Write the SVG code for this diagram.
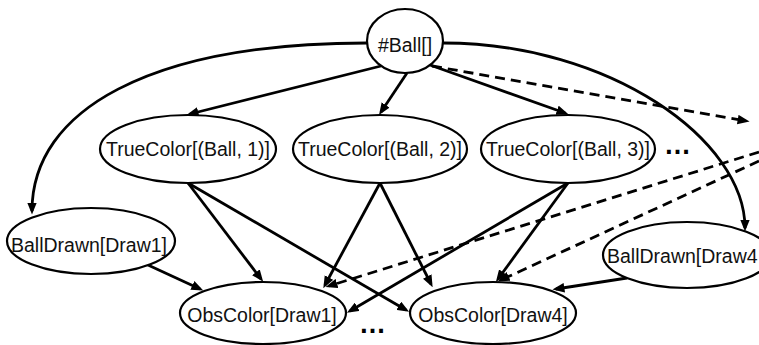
<svg xmlns="http://www.w3.org/2000/svg" width="759" height="345" viewBox="0 0 759 345">
  <style>
    .node ellipse { fill: #fff; stroke: #000; stroke-width: 2.2; }
    .node text { font-family: "Liberation Sans", Arial, sans-serif; font-size: 19.5px; fill: #111; text-anchor: middle; }
    .edge { fill: none; stroke: #000; stroke-width: 2.8; marker-end: url(#arrow); }
    .dash { stroke-dasharray: 10 6; }
    .dots { font-family: "Liberation Sans", Arial, sans-serif; font-size: 27px; font-weight: bold; fill: #000; }
  </style>
  <defs>
    <marker id="arrow" viewBox="0 0 10 8" refX="7" refY="4" markerWidth="12" markerHeight="10" markerUnits="userSpaceOnUse" orient="auto">
      <path d="M0,0 L10,4 L0,8 z" fill="#000"/>
    </marker>
  </defs>

  <rect width="759" height="345" fill="#fff"/>

  <!-- connectors -->
  <g id="connectors">
    <path class="edge" d="M381,66 L190,114"/>
    <path class="edge" d="M407,73 L381,112"/>
    <path class="edge" d="M430,65 L565,113"/>
    <path class="edge dash" d="M432,66 L746,121"/>
    <path class="edge" d="M367,43 C150,43 32,110 32,211"/>
    <path class="edge" d="M443,43 C610,43 745,140 745,228"/>
    <path class="edge" d="M188,183 L261,279"/>
    <path class="edge" d="M188,183 L406,310"/>
    <path class="edge" d="M380,183 L325,285"/>
    <path class="edge" d="M380,183 L431,284"/>
    <path class="edge" d="M568,183 L350,311"/>
    <path class="edge" d="M568,183 L498,279"/>
    <path class="edge" d="M148,265 L200,289"/>
    <path class="edge" d="M627,278 L556,289"/>
    <path class="edge dash" d="M759,152 L329,286"/>
    <path class="edge dash" d="M759,161 L501,280"/>
  </g>

  <!-- nodes -->
  <g id="ball" class="node">
    <ellipse cx="405" cy="41" rx="38" ry="32"/>
    <text x="405" y="52">#Ball[]</text>
  </g>
  <g id="truecolor1" class="node">
    <ellipse cx="188" cy="149" rx="88" ry="34"/>
    <text x="188" y="156">TrueColor[(Ball, 1)]</text>
  </g>
  <g id="truecolor2" class="node">
    <ellipse cx="380" cy="149" rx="87" ry="34"/>
    <text x="380" y="156">TrueColor[(Ball, 2)]</text>
  </g>
  <g id="truecolor3" class="node">
    <ellipse cx="568" cy="149" rx="87" ry="34"/>
    <text x="568" y="156">TrueColor[(Ball, 3)]</text>
  </g>
  <g id="balldrawn1" class="node">
    <ellipse cx="91" cy="241" rx="84" ry="33"/>
    <text x="89" y="252">BallDrawn[Draw1]</text>
  </g>
  <g id="balldrawn4" class="node">
    <ellipse cx="687" cy="255" rx="84" ry="33"/>
    <text x="607" y="263" style="text-anchor:start">BallDrawn[Draw4</text>
  </g>
  <g id="obscolor1" class="node">
    <ellipse cx="263" cy="313" rx="83" ry="31"/>
    <text x="262" y="322">ObsColor[Draw1]</text>
  </g>
  <g id="obscolor4" class="node">
    <ellipse cx="493" cy="313" rx="83" ry="31"/>
    <text x="493" y="322">ObsColor[Draw4]</text>
  </g>

  <!-- ellipsis marks -->
  <text class="dots" x="664" y="154">…</text>
  <text class="dots" x="359" y="333">…</text>
</svg>
